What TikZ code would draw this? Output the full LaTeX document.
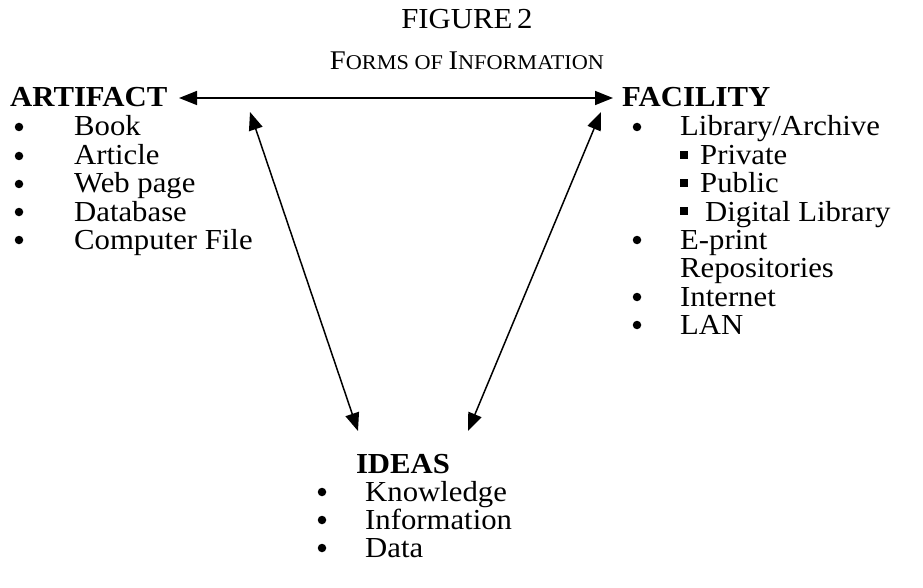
\documentclass[tikz,border=0pt]{standalone}
\usepackage{fontspec}
\setmainfont{Liberation Serif}[FakeStretch=1.06]
\usetikzlibrary{arrows.meta}
\begin{document}
\begin{tikzpicture}[x=1pt,y=-1pt,
  txt/.style={anchor=base west,inner sep=0pt,font=\fontsize{29}{30}\selectfont},
  head/.style={anchor=base west,inner sep=0pt,font=\fontsize{29}{30}\selectfont\bfseries},
  bul/.style={circle,fill=black,inner sep=0pt,minimum size=8.5pt,yshift=9pt},
  sq/.style={rectangle,fill=black,inner sep=0pt,minimum size=8pt,yshift=10pt},
  link/.style={line width=1.5pt,{Triangle[length=18pt,width=14pt]}-{Triangle[length=18pt,width=14pt]}}]
\useasboundingbox (0,0) rectangle (923,588);
% title
\node[anchor=base,inner sep=0pt,font=\fontsize{29}{30}\selectfont] (t1) at (467,29) {FIGURE\,2};
\node[anchor=base,inner sep=0pt] (t2) at (467,70) {\fontsize{27}{28}\selectfont F\fontsize{21}{22}\selectfont ORMS OF \fontsize{27}{28}\selectfont I\fontsize{21}{22}\selectfont NFORMATION};
% artifact
\node[head] (art) at (10,107) {ARTIFACT};
\foreach \t/\y [count=\i] in {Book/136,Article/165,Web page/193,Database/221,Computer File/249}{
  \node[bul] (ab\i) at (19,\y) {};
  \node[txt] (a\i) at (74,\y) {\t};
}
% facility
\node[head] (fac) at (622,107) {FACILITY};
\node[bul] (fb1) at (637,136) {};
\node[txt] (f1) at (680,136) {Library/Archive};
\node[sq] (fs1) at (684,165) {};
\node[txt] (s1) at (700,165) {Private};
\node[sq] (fs2) at (684,193) {};
\node[txt] (s2) at (700,193) {Public};
\node[sq] (fs3) at (684,221) {};
\node[txt] (s3) at (705,221) {Digital Library};
\node[bul] (fb2) at (637,249) {};
\node[txt] (f2) at (680,249) {E-print};
\node[txt] (f2b) at (680,277) {Repositories};
\node[bul] (fb3) at (637,306) {};
\node[txt] (f3) at (680,306) {Internet};
\node[bul] (fb4) at (637,334) {};
\node[txt] (f4) at (680,334) {LAN};
% ideas
\node[head,anchor=base] (ide) at (403,473) {IDEAS};
\foreach \t/\y [count=\i] in {Knowledge/501,Information/529,Data/557}{
  \node[bul] (ib\i) at (322,\y) {};
  \node[txt] (i\i) at (365,\y) {\t};
}
% connectors
\coordinate (artR) at (179,98);
\coordinate (facL) at (613,98);
\coordinate (artD) at (250,112);
\coordinate (facD) at (601,112);
\coordinate (ideL) at (358,431);
\coordinate (ideR) at (468,431);
\draw[link] (artR) -- (facL);
\draw[link] (artD) -- (ideL);
\draw[link] (facD) -- (ideR);
\end{tikzpicture}
\end{document}
